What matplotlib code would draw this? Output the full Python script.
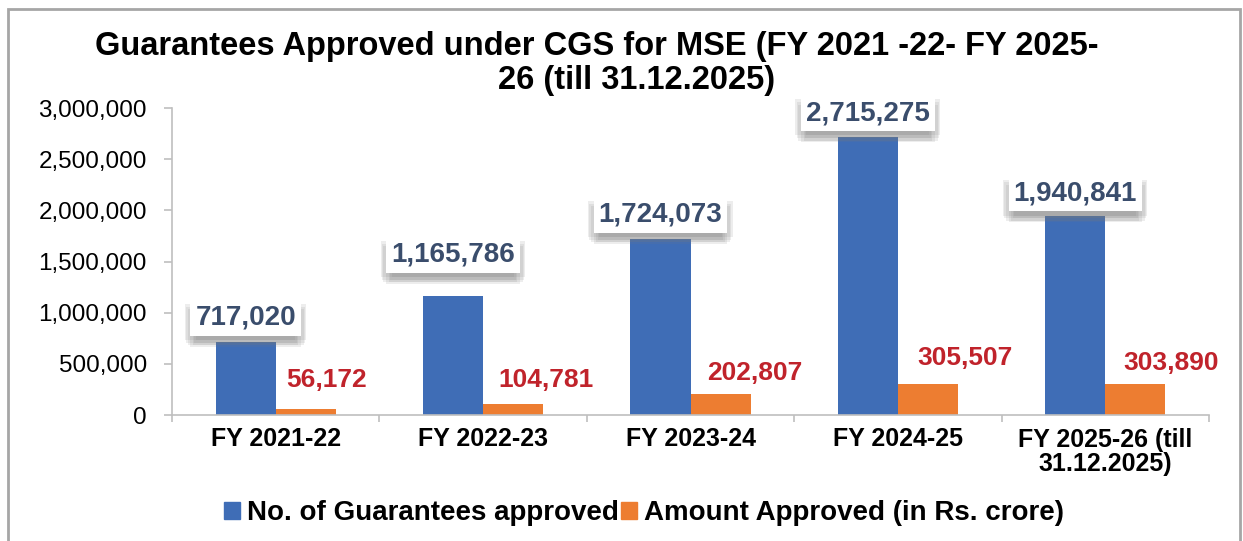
import matplotlib.pyplot as plt
import matplotlib.patheffects as pe
from matplotlib.patches import Patch, Rectangle
from matplotlib.ticker import FuncFormatter, MultipleLocator, FixedLocator

plt.rcParams['font.family'] = ['Liberation Sans', 'DejaVu Sans']

# data
categories = ['FY 2021-22', 'FY 2022-23', 'FY 2023-24', 'FY 2024-25',
              'FY 2025-26 (till\n31.12.2025)']
guarantees = [717020, 1165786, 1724073, 2715275, 1940841]
amount = [56172, 104781, 202807, 305507, 303890]

# label offsets (pixels) as placed in the original chart
blue_dy = [24, 41, 24, 24, 23]
red_dx = [21, 33, 34, 37, 36]
red_dy = [29, 24, 21, 26, 21]

blue = '#3F6DB6'
orange = '#ED7D31'
red_txt = '#C0232B'
blue_txt = '#3A4D6C'
grey = '#BFBFBF'

fig = plt.figure(figsize=(12.43, 5.41), dpi=100)
ax = fig.add_axes([172 / 1243, 1 - 415 / 541, (1209 - 172) / 1243, (415 - 108) / 541])

# frame around the chart
fig.patches.append(Rectangle((8 / 1243, -0.05), (1240 - 8) / 1243, 1.05 - 9 / 541,
                             transform=fig.transFigure, fill=False,
                             edgecolor='#A6A6A6', linewidth=2))

w = 0.29
x = list(range(len(categories)))
ax.bar([i - w / 2 for i in x], guarantees, width=w, color=blue, zorder=2)
ax.bar([i + w / 2 for i in x], amount, width=w, color=orange, zorder=2)

ax.set_xlim(-0.5, len(categories) - 0.5)
ax.set_ylim(0, 3000000)
ax.yaxis.set_major_locator(MultipleLocator(500000))
ax.yaxis.set_major_formatter(FuncFormatter(lambda v, p: f'{int(v):,}'))

for s in ['top', 'right']:
    ax.spines[s].set_visible(False)
for s in ['left', 'bottom']:
    ax.spines[s].set_color(grey)
    ax.spines[s].set_linewidth(1.2)

ax.set_xticks(x)
ax.set_xticklabels(categories, fontsize=18, fontweight='bold', linespacing=1.05)
ax.xaxis.set_minor_locator(FixedLocator([i - 0.5 for i in range(len(categories) + 1)]))
ax.tick_params(axis='x', which='major', length=0, pad=9)
ax.tick_params(axis='x', which='minor', length=5, color=grey, width=1.2)
ax.tick_params(axis='y', length=6, color=grey, width=1.2, pad=12, labelsize=17.5)

# soft drop shadow behind the value boxes
shadow = []
for dx, dy in [(-4, -3), (4, -3), (-3, -5), (3, -5), (-2, -7), (2, -7), (0, -8)]:
    shadow.append(pe.withSimplePatchShadow(offset=(dx, dy), shadow_rgbFace='#7A7A7A', alpha=0.13))
shadow.append(pe.Normal())

for i, v in enumerate(guarantees):
    t = ax.annotate(f'{v:,}', xy=(i - w / 2, v), xytext=(0, blue_dy[i]),
                    textcoords='offset pixels', ha='center', va='center',
                    fontsize=20, fontweight='bold', color=blue_txt, zorder=5,
                    bbox=dict(boxstyle='square,pad=0.18', fc='white', ec='none'))
    t.get_bbox_patch().set_path_effects(shadow)

for i, v in enumerate(amount):
    ax.annotate(f'{v:,}', xy=(i + w / 2, v), xytext=(red_dx[i], red_dy[i]),
                textcoords='offset pixels', ha='center', va='center',
                fontsize=19, fontweight='bold', color=red_txt, zorder=5)

# title
fig.text(597 / 1243, 1 - 47 / 541, 'Guarantees Approved under CGS for MSE (FY 2021 -22- FY 2025-',
         ha='center', va='center', fontsize=23.5, fontweight='bold')
fig.text(637 / 1243, 1 - 80 / 541, '26 (till 31.12.2025)',
         ha='center', va='center', fontsize=23.5, fontweight='bold')

handles = [Patch(color=blue, label='No. of Guarantees approved'),
           Patch(color=orange, label='Amount Approved (in Rs. crore)')]
leg = fig.legend(handles=handles, loc='center', bbox_to_anchor=(644 / 1243, 1 - 513 / 541),
                 ncol=2, frameon=False, handlelength=0.55, handleheight=0.55,
                 handletextpad=0.25, columnspacing=0.1,
                 prop={'size': 20, 'weight': 'bold'})

fig.savefig('out.png', dpi=100)
